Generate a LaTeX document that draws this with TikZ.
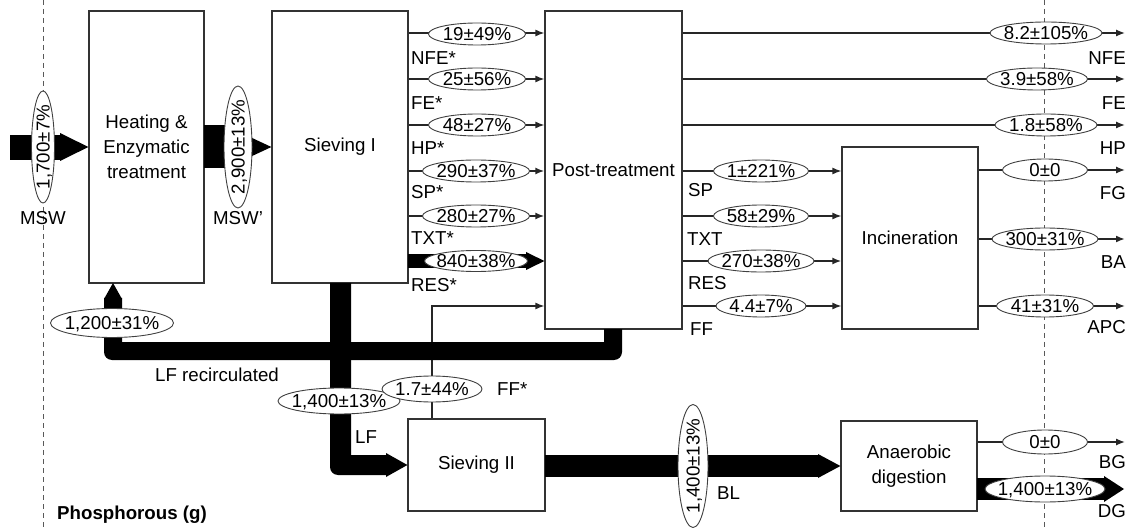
\documentclass[tikz,border=0pt]{standalone}
\usepackage{fontspec}
\setmainfont{Liberation Sans}
\usetikzlibrary{arrows.meta,shapes.geometric}
\newcommand{\elltxt}[1]{\raisebox{-0.36em}[0pt][0pt]{\makebox[0pt]{#1}}}
\begin{document}
\begin{tikzpicture}[x=1pt,y=-1pt,
  every node/.style={font=\fontsize{18.7}{25}\selectfont, text=black},
  box/.style={draw=black!80, line width=1.2pt, fill=white, rectangle, inner sep=0pt, align=center},
  ell/.style={draw=black!75, line width=0.9pt, fill=white, ellipse, inner sep=0pt, minimum height=22pt},
  flow/.style={draw=black!85, line width=1.3pt, -{Latex[length=9pt,width=7pt]}},
  mflow/.style={flow, line width=2.6pt},
  lbl/.style={inner sep=0pt},
  band/.style={fill=black},
  guide/.style={draw=black!65, line width=1pt, dash pattern=on 5pt off 4pt}]

\useasboundingbox (0,0) rectangle (1127,529);

% guide lines
\draw[guide] (43,0) -- (43,529);
\draw[guide] (1044,0) -- (1044,529);

% boxes
\node[box, minimum width=115pt, minimum height=272pt] (heat) at (146.5,147) {Heating \&\\Enzymatic\\treatment};
\node[box, minimum width=136pt, minimum height=272pt] (siev1) at (340,147) {Sieving I};
\node[box, minimum width=137pt, minimum height=318pt] (post) at (613.5,170) {Post-treatment};
\node[box, minimum width=136pt, minimum height=182pt] (incin) at (910,238) {Incineration};
\node[box, minimum width=137pt, minimum height=92pt] (siev2) at (476.5,465) {Sieving II};
\node[box, minimum width=136pt, minimum height=90pt] (anaer) at (909,466) {Anaerobic\\digestion};

% row coordinates
\coordinate (rA) at (0,33);
\coordinate (rB) at (0,79);
\coordinate (rC) at (0,125);
\coordinate (rD) at (0,171);
\coordinate (rE) at (0,216);
\coordinate (rF) at (0,261);
\coordinate (rG) at (0,306);
\coordinate (iA) at (0,170);
\coordinate (iB) at (0,239);
\coordinate (iC) at (0,306);
\coordinate (aA) at (0,442);
\coordinate (xend) at (1125,0);
\coordinate (ffx) at (432,0);
\coordinate (recTip) at (113,283);

% Sieving I -> Post-treatment
\draw[flow] (siev1.east|-rA) -- (post.west|-rA);
\draw[flow] (siev1.east|-rB) -- (post.west|-rB);
\draw[flow] (siev1.east|-rC) -- (post.west|-rC);
\draw[mflow] (siev1.east|-rD) -- (post.west|-rD);
\draw[mflow] (siev1.east|-rE) -- (post.west|-rE);
\fill[band] (408,254) rectangle (530,268);
\fill[band] (526,252) -- (post.west|-rF) -- (526,270) -- cycle;

% Post-treatment -> right
\draw[flow] (post.east|-rA) -- (xend|-rA);
\draw[flow] (post.east|-rB) -- (xend|-rB);
\draw[flow] (post.east|-rC) -- (xend|-rC);

% Post-treatment -> Incineration
\draw[flow] (post.east|-rD) -- (incin.west|-rD);
\draw[flow] (post.east|-rE) -- (incin.west|-rE);
\draw[mflow] (post.east|-rF) -- (incin.west|-rF);
\draw[flow] (post.east|-rG) -- (incin.west|-rG);

% Incineration -> right
\draw[flow] (incin.east|-iA) -- (xend|-iA);
\draw[mflow] (incin.east|-iB) -- (xend|-iB);
\draw[flow] (incin.east|-iC) -- (xend|-iC);

% Anaerobic digestion -> right
\draw[flow] (anaer.east|-aA) -- (xend|-aA);
\fill[band] (977,478) rectangle (1106,500);
\fill[band] (1104,476) -- (1124,489) -- (1104,502) -- cycle;

% FF* from Sieving II to Post-treatment
\draw[flow] (siev2.north-|ffx) |- (post.west|-rG);

% thick bands
\fill[band] (10,135) rectangle (62,160);
\fill[band] (60,133) -- (heat.west) -- (60,161) -- cycle;
\fill[band] (204,125) rectangle (240,168);
\fill[band] (250,137) -- (siev1.west) -- (250,157) -- cycle;
% LF recirculated
\fill[band] (122,298) -- (122,342) -- (604,342) -- (604,329) -- (622,329) -- (622,352)
  .. controls (622,356.4) and (618.4,360) .. (614,360) -- (112,360)
  .. controls (107.6,360) and (104,356.4) .. (104,352) -- (104,298) -- cycle;
\fill[band] (104,299) -- (recTip) -- (122,299) -- cycle;
% LF down to Sieving II
\fill[band] (330,283) -- (330,467) .. controls (330,471.4) and (333.6,475) .. (338,475)
  -- (388,475) -- (388,455) -- (351,455) -- (351,283) -- cycle;
\fill[band] (386,453) -- (siev2.west) -- (386,477) -- cycle;
% BL
\fill[band] (545,455) rectangle (820,477);
\fill[band] (818,454) -- (anaer.west) -- (818,478) -- cycle;

% ellipses
\node[ell, minimum width=112pt, minimum height=23pt, rotate=90] (eMSW) at (43,147) {\elltxt{1,700±7\%}};
\node[ell, minimum width=122pt, minimum height=28pt, rotate=90] (eMSWp) at (238,147) {\elltxt{2,900±13\%}};
\node[ell, minimum width=97pt] (e1) at (477,34) {\elltxt{19±49\%}};
\node[ell, minimum width=97pt] (e2) at (477,79) {\elltxt{25±56\%}};
\node[ell, minimum width=97pt] (e3) at (477,125) {\elltxt{48±27\%}};
\node[ell, minimum width=107pt] (e4) at (476,171) {\elltxt{290±37\%}};
\node[ell, minimum width=107pt] (e5) at (476,216) {\elltxt{280±27\%}};
\node[ell, minimum width=103pt, minimum height=21pt] (e6) at (476,261) {\elltxt{840±38\%}};
\node[ell, minimum width=95pt] (e7) at (761,171) {\elltxt{1±221\%}};
\node[ell, minimum width=95pt] (e8) at (761,216) {\elltxt{58±29\%}};
\node[ell, minimum width=106pt] (e9) at (761,261) {\elltxt{270±38\%}};
\node[ell, minimum width=90pt] (e10) at (761,306) {\elltxt{4.4±7\%}};
\node[ell, minimum width=112pt] (e11) at (1046,33) {\elltxt{8.2±105\%}};
\node[ell, minimum width=101pt] (e12) at (1037,79) {\elltxt{3.9±58\%}};
\node[ell, minimum width=102pt] (e13) at (1046,125) {\elltxt{1.8±58\%}};
\node[ell, minimum width=85pt] (e14) at (1045,170) {\elltxt{0±0}};
\node[ell, minimum width=106pt] (e15) at (1045,239) {\elltxt{300±31\%}};
\node[ell, minimum width=97pt] (e16) at (1045,306) {\elltxt{41±31\%}};
\node[ell, minimum width=85pt, minimum height=24pt] (e17) at (1045,442) {\elltxt{0±0}};
\node[ell, minimum width=120pt, minimum height=26pt] (e18) at (1045,489) {\elltxt{1,400±13\%}};
\node[ell, minimum width=123pt, minimum height=29pt] (e19) at (112,323) {\elltxt{1,200±31\%}};
\node[ell, minimum width=122pt, minimum height=26pt] (e20) at (339,401) {\elltxt{1,400±13\%}};
\node[ell, minimum width=100pt, minimum height=26pt] (e21) at (432,389) {\elltxt{1.7±44\%}};
\node[ell, minimum width=123pt, minimum height=30pt, rotate=90] (e22) at (693,466) {\elltxt{1,400±13\%}};

% labels
\node[lbl] (lMSW) at (43,218) {MSW};
\node[lbl] (lMSWp) at (238,218) {MSW'};
\node[lbl, anchor=west] (l1) at (411,58) {NFE*};
\node[lbl, anchor=west] (l2) at (411,103) {FE*};
\node[lbl, anchor=west] (l3) at (411,148) {HP*};
\node[lbl, anchor=west] (l4) at (411,192) {SP*};
\node[lbl, anchor=west] (l5) at (411,238) {TXT*};
\node[lbl, anchor=west] (l6) at (411,285) {RES*};
\node[lbl, anchor=west] (l7) at (688,190) {SP};
\node[lbl, anchor=west] (l8) at (687,239) {TXT};
\node[lbl, anchor=west] (l9) at (688,283) {RES};
\node[lbl, anchor=west] (l10) at (690,329) {FF};
\node[lbl, anchor=east] (l11) at (1126,58) {NFE};
\node[lbl, anchor=east] (l12) at (1126,103) {FE};
\node[lbl, anchor=east] (l13) at (1126,148) {HP};
\node[lbl, anchor=east] (l14) at (1126,193) {FG};
\node[lbl, anchor=east] (l15) at (1126,262) {BA};
\node[lbl, anchor=east] (l16) at (1126,327) {APC};
\node[lbl, anchor=east] (l17) at (1126,462) {BG};
\node[lbl, anchor=east] (l18) at (1126,511) {DG};
\node[lbl, anchor=west] (l19) at (155,375) {LF recirculated};
\node[lbl, anchor=west] (l20) at (355,437) {LF};
\node[lbl, anchor=west] (l21) at (497,389) {FF*};
\node[lbl, anchor=west] (l22) at (717,493) {BL};
\node[lbl, anchor=west, font=\bfseries\fontsize{18.7}{22}\selectfont] (l23) at (57,515) {Phosphorous (g)};
\end{tikzpicture}
\end{document}
